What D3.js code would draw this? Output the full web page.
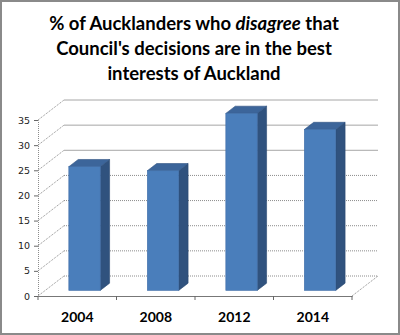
<!DOCTYPE html>
<html>
<head>
<meta charset="utf-8">
<script src="https://cdn.jsdelivr.net/npm/d3@7"></script>
<style>
  body { margin: 0; background: #fff; }
  svg { display: block; }
</style>
</head>
<body>
<div id="chart"></div>
<script>
// data
const years = ["2004", "2008", "2012", "2014"];
const disagree = [24.6, 23.8, 35.2, 32.0];
const yTicks = [0, 5, 10, 15, 20, 25, 30, 35];
const titleLines = [
    [["% of Aucklanders who ", "normal"], ["disagree", "italic"], [" that", "normal"]],
    [["Council's decisions are in the best", "normal"]],
    [["interests of Auckland", "normal"]]
];

const W = 400, H = 335;
// 3d-ish depth offset of the back wall
const depth = {dx: 26, dy: -20};
const barFront = 0.28, barBack = 0.64;

const svg = d3.select("#chart")
    .append("svg")
    .attr("width", W)
    .attr("height", H);

// outer frame
svg.append("rect")
    .attr("x", 1).attr("y", 1)
    .attr("width", W - 2).attr("height", H - 2)
    .attr("fill", "#fff")
    .attr("stroke", "#8a8a8a")
    .attr("stroke-width", 2);

// title
const title = svg.append("text")
    .attr("text-anchor", "middle")
    .style("font-family", "Lato")
    .style("font-weight", "bold")
    .style("font-size", "18.5px")
    .attr("fill", "#000");

titleLines.forEach((parts, i) => {
    const line = title.append("tspan")
        .attr("x", 194)
        .attr("y", 29.5 + i * 25);
    parts.forEach(p => {
        line.append("tspan").style("font-style", p[1]).text(p[0]);
    });
});

// scales for the front plane
const x = d3.scaleBand()
    .domain(years)
    .range([38, 352])
    .paddingInner(0)
    .paddingOuter(0);

const y = d3.scaleLinear()
    .domain([0, 35])
    .range([296, 120]);

const barW = x.bandwidth() / 2.5;

// back wall gridlines
svg.append("g")
    .selectAll("line")
    .data(yTicks)
    .join("line")
    .attr("x1", x.range()[0] + depth.dx)
    .attr("x2", x.range()[1] + depth.dx)
    .attr("y1", d => y(d) + depth.dy)
    .attr("y2", d => y(d) + depth.dy)
    .attr("stroke", d => d > 20 ? "#a6a6a6" : "#8c8c8c")
    .attr("stroke-dasharray", d => d > 20 ? null : "1,1");

// side wall diagonals
svg.append("g")
    .selectAll("line")
    .data(yTicks)
    .join("line")
    .attr("x1", x.range()[0])
    .attr("x2", x.range()[0] + depth.dx)
    .attr("y1", d => y(d))
    .attr("y2", d => y(d) + depth.dy)
    .attr("stroke", "#8c8c8c")
    .attr("stroke-dasharray", "1,1");

// floor right edge
svg.append("line")
    .attr("x1", x.range()[1]).attr("y1", y(0))
    .attr("x2", x.range()[1] + depth.dx).attr("y2", y(0) + depth.dy)
    .attr("stroke", "#8c8c8c")
    .attr("stroke-dasharray", "1,1");

// y axis
const yAxis = svg.append("g")
    .attr("transform", `translate(${x.range()[0]},0)`)
    .call(d3.axisLeft(y).tickValues(yTicks).tickSize(4).tickPadding(4));
yAxis.select(".domain").attr("stroke", "#8c8c8c").attr("stroke-dasharray", "1,1");
yAxis.selectAll(".tick line").attr("stroke", "#666");
yAxis.selectAll("text")
    .style("font-family", "DejaVu Sans")
    .style("font-size", "9.5px")
    .attr("fill", "#222");

// x axis with ticks between categories
const xAxis = svg.append("g")
    .attr("transform", `translate(0,${y(0)})`)
    .call(d3.axisBottom(x).tickSize(0).tickPadding(16));
xAxis.select(".domain").attr("stroke", "#777");
xAxis.selectAll("text")
    .style("font-family", "Lato")
    .style("font-weight", "bold")
    .style("font-size", "14px")
    .attr("fill", "#000");
xAxis.append("g")
    .selectAll("line")
    .data(years.map(d => x(d)).concat([x.range()[1]]))
    .join("line")
    .attr("x1", d => d).attr("x2", d => d)
    .attr("y1", 0).attr("y2", 4)
    .attr("stroke", "#666");

// bars as extruded boxes
const bars = svg.append("g")
    .selectAll("g")
    .data(years.map((yr, i) => ({year: yr, value: disagree[i]})))
    .join("g");

const fx = d => x(d.year) + (x.bandwidth() - barW) / 2;

function pt(px, py, f) {
    return [px + depth.dx * f, py + depth.dy * f];
}

// side face
bars.append("path")
    .attr("d", d => {
        const xr = fx(d) + barW;
        return d3.line()([
            pt(xr, y(d.value), barFront), pt(xr, y(d.value), barBack),
            pt(xr, y(0), barBack), pt(xr, y(0), barFront)
        ]) + "Z";
    })
    .attr("fill", "#30527e")
    .attr("stroke", "#2a4a72")
    .attr("stroke-width", 0.6);

// top face
bars.append("path")
    .attr("d", d => {
        const xl = fx(d), xr = fx(d) + barW, yt = y(d.value);
        return d3.line()([
            pt(xl, yt, barFront), pt(xl, yt, barBack),
            pt(xr, yt, barBack), pt(xr, yt, barFront)
        ]) + "Z";
    })
    .attr("fill", "#3c659a")
    .attr("stroke", "#2f5382")
    .attr("stroke-width", 0.6);

// front face
bars.append("rect")
    .attr("x", d => fx(d) + depth.dx * barFront)
    .attr("y", d => y(d.value) + depth.dy * barFront)
    .attr("width", barW)
    .attr("height", d => y(0) - y(d.value))
    .attr("fill", "#4a7ebb")
    .attr("stroke", "#3f6ea8")
    .attr("stroke-width", 0.6);
</script>
</body>
</html>
